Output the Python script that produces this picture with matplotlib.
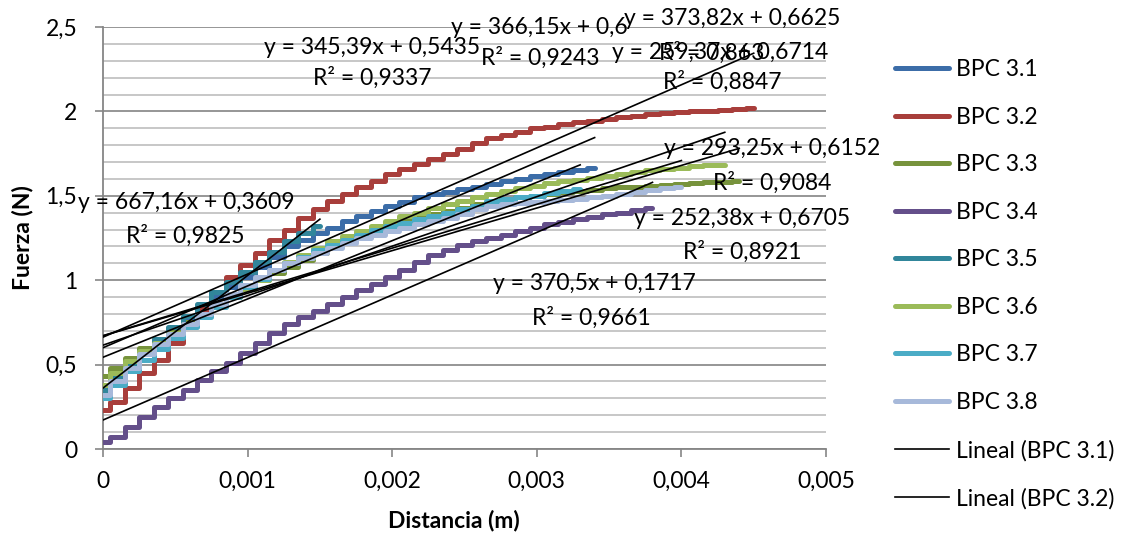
import matplotlib
matplotlib.use("Agg")
import matplotlib.pyplot as plt
from matplotlib.ticker import MultipleLocator

plt.rcParams['font.family'] = ['Lato', 'DejaVu Sans']

# ---------------- data ----------------
x_dist = [0.0000, 0.0001, 0.0002, 0.0003, 0.0004, 0.0005, 0.0006, 0.0007, 0.0008, 0.0009,
          0.0010, 0.0011, 0.0012, 0.0013, 0.0014, 0.0015, 0.0016, 0.0017, 0.0018, 0.0019,
          0.0020, 0.0021, 0.0022, 0.0023, 0.0024, 0.0025, 0.0026, 0.0027, 0.0028, 0.0029,
          0.0030, 0.0031, 0.0032, 0.0033, 0.0034, 0.0035, 0.0036, 0.0037, 0.0038, 0.0039,
          0.0040, 0.0041, 0.0042, 0.0043, 0.0044, 0.0045]

bpc_3_1 = [0.33, 0.42, 0.50, 0.58, 0.64, 0.71, 0.77, 0.84, 0.90, 0.96,
           1.02, 1.08, 1.14, 1.20, 1.24, 1.28, 1.31, 1.35, 1.38, 1.41,
           1.44, 1.465, 1.49, 1.51, 1.525, 1.54, 1.555, 1.57, 1.585, 1.60,
           1.615, 1.63, 1.64, 1.655, 1.665]
bpc_3_2 = [0.23, 0.28, 0.36, 0.45, 0.53, 0.63, 0.73, 0.83, 0.93, 1.02,
           1.09, 1.16, 1.24, 1.30, 1.37, 1.42, 1.47, 1.51, 1.55, 1.59,
           1.63, 1.66, 1.69, 1.72, 1.75, 1.78, 1.81, 1.84, 1.86, 1.88,
           1.90, 1.91, 1.925, 1.935, 1.945, 1.955, 1.965, 1.975, 1.985, 1.99,
           1.995, 2.00, 2.005, 2.01, 2.015, 2.02]
bpc_3_3 = [0.43, 0.48, 0.54, 0.60, 0.65, 0.70, 0.75, 0.80, 0.85, 0.90,
           0.95, 1.00, 1.04, 1.08, 1.12, 1.16, 1.20, 1.23, 1.26, 1.29,
           1.32, 1.35, 1.37, 1.39, 1.41, 1.43, 1.45, 1.465, 1.48, 1.49,
           1.50, 1.51, 1.52, 1.53, 1.535, 1.545, 1.55, 1.555, 1.56, 1.565,
           1.57, 1.575, 1.58, 1.58, 1.585]
bpc_3_4 = [0.04, 0.07, 0.13, 0.19, 0.25, 0.30, 0.35, 0.41, 0.46, 0.51,
           0.57, 0.63, 0.69, 0.74, 0.78, 0.82, 0.86, 0.90, 0.94, 0.98,
           1.02, 1.06, 1.11, 1.15, 1.18, 1.21, 1.23, 1.25, 1.27, 1.29,
           1.31, 1.33, 1.345, 1.36, 1.375, 1.39, 1.40, 1.415, 1.43]
bpc_3_5 = [0.35, 0.42, 0.50, 0.58, 0.65, 0.72, 0.79, 0.86, 0.93, 0.99,
           1.05, 1.11, 1.17, 1.23, 1.28, 1.32]
bpc_3_6 = [0.38, 0.45, 0.52, 0.58, 0.63, 0.69, 0.74, 0.80, 0.85, 0.90,
           0.95, 1.00, 1.06, 1.11, 1.15, 1.19, 1.23, 1.26, 1.29, 1.32,
           1.35, 1.38, 1.40, 1.43, 1.45, 1.47, 1.49, 1.51, 1.53, 1.545,
           1.56, 1.575, 1.585, 1.595, 1.605, 1.615, 1.63, 1.64, 1.65, 1.66,
           1.665, 1.675, 1.68, 1.685]
bpc_3_7 = [0.30, 0.38, 0.46, 0.53, 0.59, 0.66, 0.72, 0.78, 0.84, 0.90,
           0.96, 1.01, 1.06, 1.10, 1.14, 1.18, 1.21, 1.24, 1.27, 1.30,
           1.32, 1.34, 1.36, 1.38, 1.40, 1.42, 1.44, 1.47, 1.48, 1.49,
           1.50, 1.515, 1.53, 1.54]
bpc_3_8 = [0.32, 0.40, 0.48, 0.56, 0.62, 0.68, 0.74, 0.80, 0.86, 0.92,
           0.97, 1.02, 1.06, 1.10, 1.13, 1.16, 1.19, 1.22, 1.25, 1.27,
           1.29, 1.31, 1.33, 1.35, 1.37, 1.39, 1.42, 1.44, 1.45, 1.46,
           1.465, 1.47, 1.475, 1.48, 1.49, 1.50, 1.51, 1.52, 1.535, 1.545,
           1.555]

series_names = ['BPC 3.1', 'BPC 3.2', 'BPC 3.3', 'BPC 3.4',
                'BPC 3.5', 'BPC 3.6', 'BPC 3.7', 'BPC 3.8']
series_values = [bpc_3_1, bpc_3_2, bpc_3_3, bpc_3_4,
                 bpc_3_5, bpc_3_6, bpc_3_7, bpc_3_8]

# linear trendlines (slope, intercept, R^2) per series
trend_slope = [366.15, 373.82, 252.38, 370.5, 667.16, 293.25, 345.39, 259.37]
trend_intercept = [0.6, 0.6625, 0.6705, 0.1717, 0.3609, 0.6152, 0.5435, 0.6714]
trend_eq_text = ['y = 366,15x + 0,6', 'y = 373,82x + 0,6625', 'y = 252,38x + 0,6705',
                 'y = 370,5x + 0,1717', 'y = 667,16x + 0,3609', 'y = 293,25x + 0,6152',
                 'y = 345,39x + 0,5435', 'y = 259,37x + 0,6714']
trend_r2_text = ['R² = 0,9243', 'R² = 0,863', 'R² = 0,8921', 'R² = 0,9661',
                 'R² = 0,9825', 'R² = 0,9084', 'R² = 0,9337', 'R² = 0,8847']

x_ticks = [0, 0.001, 0.002, 0.003, 0.004, 0.005]
x_tick_labels = ['0', '0,001', '0,002', '0,003', '0,004', '0,005']
y_ticks = [0, 0.5, 1, 1.5, 2, 2.5]
y_tick_labels = ['0', '0,5', '1', '1,5', '2', '2,5']

# ---------------- style ----------------
colors = ['#3C6DA8', '#A83E3B', '#77933C', '#644F8A',
          '#31869B', '#9BBB59', '#4BACC6', '#A7B9DA']
# label positions (data coords) for equation and R^2 text
eq_pos = [(0.003015, 2.50), (0.00435, 2.553), (0.00442, 1.368), (0.00340, 0.983),
          (0.000574, 1.463), (0.00463, 1.783), (0.00186, 2.38), (0.00427, 2.35)]
r2_pos = [(0.003022, 2.32), (0.00421, 2.35), (0.00442, 1.167), (0.00338, 0.776),
          (0.000567, 1.262), (0.00463, 1.58), (0.00186, 2.20), (0.00428, 2.174)]

FS = 16.5
W, H = 1129, 541
fig = plt.figure(figsize=(W / 100, H / 100), dpi=100)
ax = fig.add_axes([103 / W, 1 - 449 / H, (826 - 103) / W, (449 - 27) / H])

ax.set_xlim(0, 0.005)
ax.set_ylim(0, 2.5)

data_lines = []
for name, vals, col in zip(series_names, series_values, colors):
    ln, = ax.plot(x_dist[:len(vals)], vals, color=col, lw=3.6, label=name,
                  drawstyle='steps-mid', solid_joinstyle='round',
                  solid_capstyle='round', zorder=3)
    data_lines.append(ln)

trend_lines = []
for i, (vals, m, b) in enumerate(zip(series_values, trend_slope, trend_intercept)):
    xs = [x_dist[0], x_dist[len(vals) - 1]]
    ys = [m * xx + b for xx in xs]
    tl, = ax.plot(xs, ys, color='black', lw=1.2, zorder=4,
                  label='Lineal (' + series_names[i] + ')')
    trend_lines.append(tl)
    ax.text(eq_pos[i][0], eq_pos[i][1], trend_eq_text[i], ha='center', va='center',
            fontsize=FS, zorder=5, clip_on=False)
    ax.text(r2_pos[i][0], r2_pos[i][1], trend_r2_text[i], ha='center', va='center',
            fontsize=FS, zorder=5, clip_on=False)

# axes / grid
ax.set_xticks(x_ticks)
ax.set_xticklabels(x_tick_labels, fontsize=FS)
ax.set_yticks(y_ticks)
ax.set_yticklabels(y_tick_labels, fontsize=FS)
ax.yaxis.set_minor_locator(MultipleLocator(0.1))
ax.tick_params(axis='both', which='major', direction='out', length=5.5,
               color='#868686', width=1.2)
ax.tick_params(axis='y', which='major', pad=13)
ax.tick_params(axis='x', which='major', pad=10)
ax.tick_params(axis='y', which='minor', length=0)
ax.grid(axis='y', which='minor', color='#C3C3C3', lw=1.3)
ax.grid(axis='y', which='major', color='#8E8E8E', lw=1.3)
ax.set_axisbelow(True)
for s in ['top', 'right']:
    ax.spines[s].set_visible(False)
for s in ['left', 'bottom']:
    ax.spines[s].set_color('#868686')
    ax.spines[s].set_linewidth(1.3)

ax.set_xlabel('Distancia (m)', fontsize=FS, fontweight='bold')
ax.set_ylabel('Fuerza (N)', fontsize=FS, fontweight='bold')
ax.xaxis.set_label_coords(0.485, -0.17)
ax.xaxis.label.set_va('center')
ax.yaxis.set_label_coords(-0.112, 0.5)
ax.yaxis.label.set_va('center')

handles = data_lines + trend_lines[:2]
labels = [h.get_label() for h in handles]
leg = fig.legend(handles, labels, loc='upper left',
                 bbox_to_anchor=(895 / W, 1 - 59 / H), frameon=False,
                 fontsize=FS, handlelength=2.35, handletextpad=0.3,
                 labelspacing=1.16, borderpad=0, borderaxespad=0)
for lh in leg.get_lines():
    lh.set_drawstyle('default')

fig.savefig('out.png', dpi=100)
